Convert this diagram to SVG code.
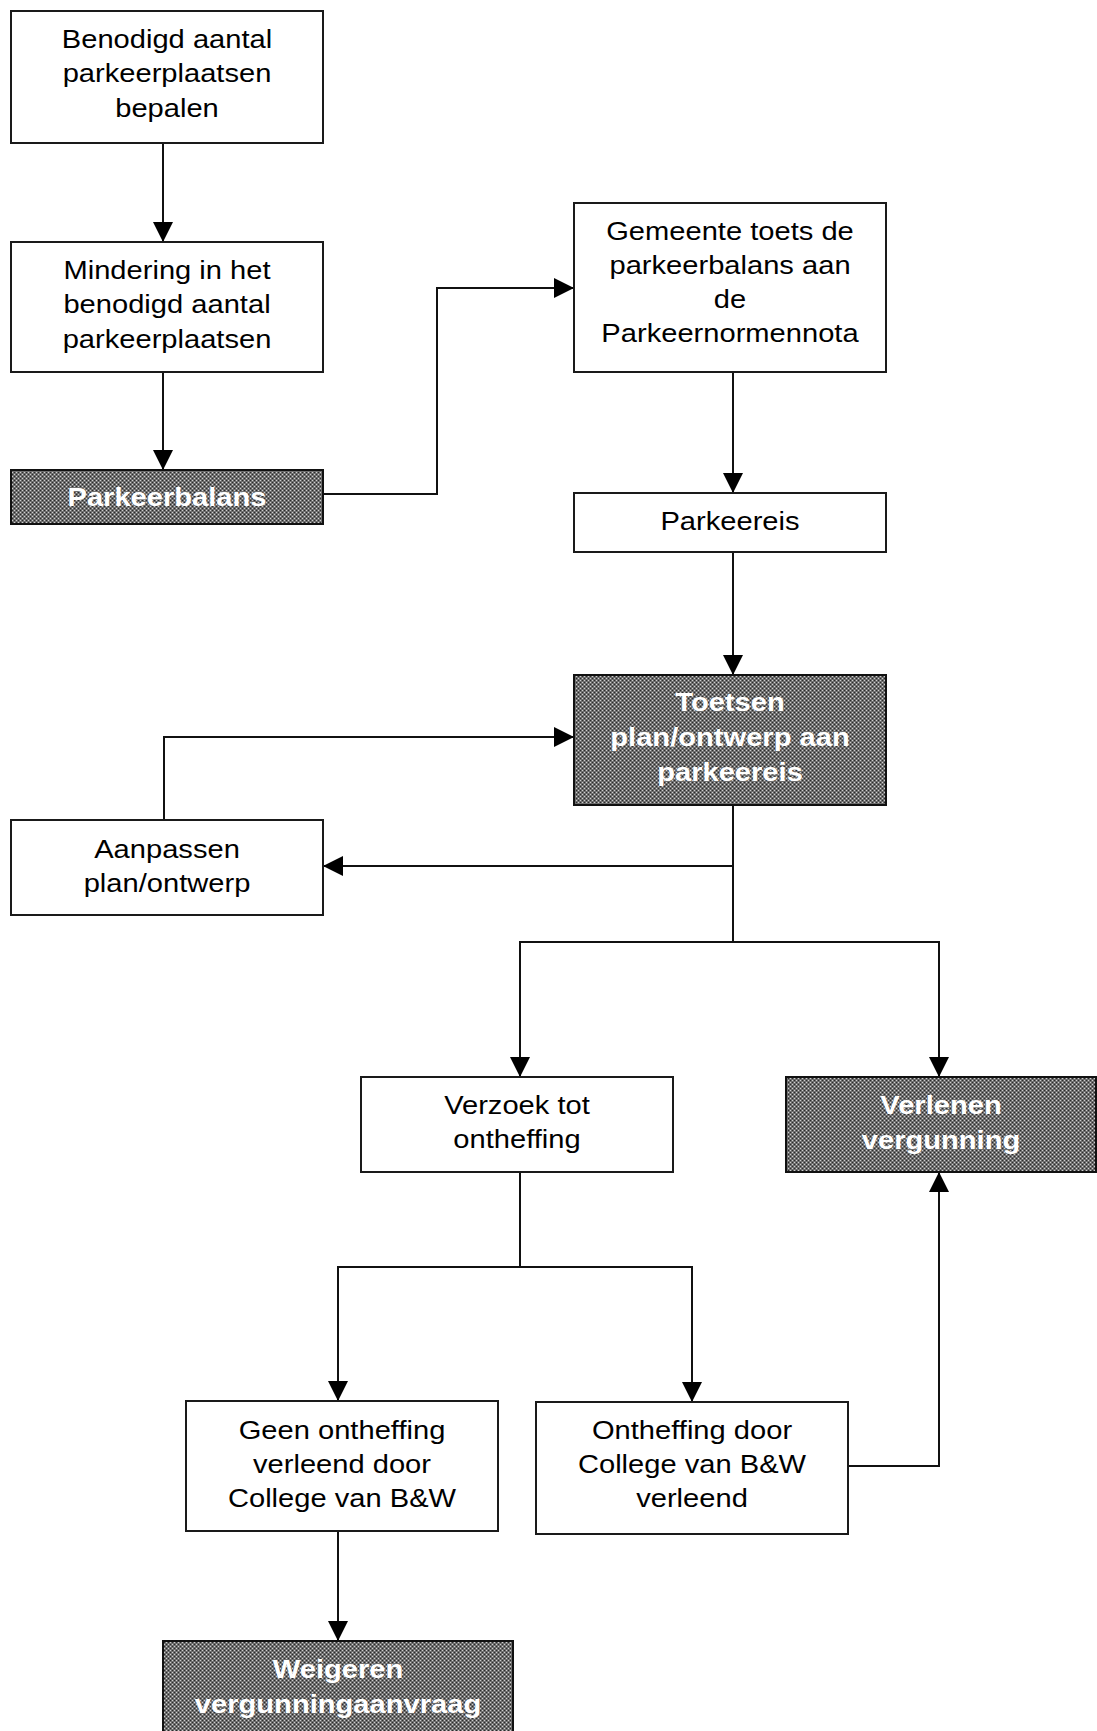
<svg xmlns="http://www.w3.org/2000/svg" width="1097" height="1731" viewBox="0 0 1097 1731">
<style>
.box{fill:#fff;stroke:#1a1a1a;stroke-width:2}
.dark{fill:url(#hatch);stroke:#111;stroke-width:2}
.t{font-family:"Liberation Sans",Arial,sans-serif;font-size:26px;text-anchor:middle;fill:#000}
.tb{font-family:"Liberation Sans",Arial,sans-serif;font-size:26px;font-weight:bold;text-anchor:middle;fill:#fff}
.c{fill:none;stroke:#111;stroke-width:2}
.a{marker-end:url(#arr)}
</style>
<defs>
<pattern id="hatch" patternUnits="userSpaceOnUse" width="4" height="4">
<rect width="4" height="4" fill="#6e6e6e"/>
<rect x="0" y="0" width="1" height="1" fill="#cfcfcf"/>
<rect x="2" y="2" width="1" height="1" fill="#cfcfcf"/>
<rect x="2" y="0" width="1" height="1" fill="#2a2a2a"/>
<rect x="0" y="2" width="1" height="1" fill="#2a2a2a"/>
</pattern>
<marker id="arr" markerUnits="userSpaceOnUse" markerWidth="20" markerHeight="20" viewBox="0 0 20 20" refX="20" refY="10" orient="auto">
<path d="M0,0 L20,10 L0,20 z" fill="#000"/>
</marker>
</defs>
<g id="connectors">
<path class="c a" d="M163,143 V242"/>
<path class="c a" d="M163,372 V470"/>
<path class="c a" d="M323,494 H437 V288 H574"/>
<path class="c a" d="M733,372 V493"/>
<path class="c a" d="M733,552 V675"/>
<path class="c a" d="M164,820 V737 H574"/>
<path class="c a" d="M733,866 H323"/>
<path class="c a" d="M733,805 V942 H520 V1077"/>
<path class="c a" d="M733,942 H939 V1077"/>
<path class="c a" d="M520,1172 V1267 H338 V1401"/>
<path class="c a" d="M520,1267 H692 V1402"/>
<path class="c a" d="M849,1466 H939 V1172"/>
<path class="c a" d="M338,1531 V1641"/>
</g>
<g id="n1">
<rect class="box" x="11" y="11" width="312" height="132"/>
<g transform="translate(167,0) scale(1.12,1)">
<text class="t" x="0" y="48">Benodigd aantal</text>
<text class="t" x="0" y="82.5">parkeerplaatsen</text>
<text class="t" x="0" y="117">bepalen</text>
</g>
</g>
<g id="n2">
<rect class="box" x="11" y="242" width="312" height="130"/>
<g transform="translate(167,0) scale(1.12,1)">
<text class="t" x="0" y="279">Mindering in het</text>
<text class="t" x="0" y="313.5">benodigd aantal</text>
<text class="t" x="0" y="348">parkeerplaatsen</text>
</g>
</g>
<g id="n3">
<rect class="dark" x="11" y="470" width="312" height="54"/>
<g transform="translate(167,0) scale(1.12,1)">
<text class="tb" x="0" y="506">Parkeerbalans</text>
</g>
</g>
<g id="n4">
<rect class="box" x="574" y="203" width="312" height="169"/>
<g transform="translate(730,0) scale(1.12,1)">
<text class="t" x="0" y="240">Gemeente toets de</text>
<text class="t" x="0" y="274">parkeerbalans aan</text>
<text class="t" x="0" y="308">de</text>
<text class="t" x="0" y="342">Parkeernormennota</text>
</g>
</g>
<g id="n5">
<rect class="box" x="574" y="493" width="312" height="59"/>
<g transform="translate(730,0) scale(1.12,1)">
<text class="t" x="0" y="530">Parkeereis</text>
</g>
</g>
<g id="n6">
<rect class="dark" x="574" y="675" width="312" height="130"/>
<g transform="translate(730,0) scale(1.12,1)">
<text class="tb" x="0" y="711">Toetsen</text>
<text class="tb" x="0" y="746">plan/ontwerp aan</text>
<text class="tb" x="0" y="781">parkeereis</text>
</g>
</g>
<g id="n7">
<rect class="box" x="11" y="820" width="312" height="95"/>
<g transform="translate(167,0) scale(1.12,1)">
<text class="t" x="0" y="858">Aanpassen</text>
<text class="t" x="0" y="892">plan/ontwerp</text>
</g>
</g>
<g id="n8">
<rect class="box" x="361" y="1077" width="312" height="95"/>
<g transform="translate(517,0) scale(1.12,1)">
<text class="t" x="0" y="1114">Verzoek tot</text>
<text class="t" x="0" y="1148">ontheffing</text>
</g>
</g>
<g id="n9">
<rect class="dark" x="786" y="1077" width="310" height="95"/>
<g transform="translate(941,0) scale(1.12,1)">
<text class="tb" x="0" y="1114">Verlenen</text>
<text class="tb" x="0" y="1149">vergunning</text>
</g>
</g>
<g id="n10">
<rect class="box" x="186" y="1401" width="312" height="130"/>
<g transform="translate(342,0) scale(1.12,1)">
<text class="t" x="0" y="1439">Geen ontheffing</text>
<text class="t" x="0" y="1473">verleend door</text>
<text class="t" x="0" y="1507">College van B&amp;W</text>
</g>
</g>
<g id="n11">
<rect class="box" x="536" y="1402" width="312" height="132"/>
<g transform="translate(692,0) scale(1.12,1)">
<text class="t" x="0" y="1439">Ontheffing door</text>
<text class="t" x="0" y="1473">College van B&amp;W</text>
<text class="t" x="0" y="1507">verleend</text>
</g>
</g>
<g id="n12">
<rect class="dark" x="163" y="1641" width="350" height="92"/>
<g transform="translate(338,0) scale(1.12,1)">
<text class="tb" x="0" y="1678">Weigeren</text>
<text class="tb" x="0" y="1713">vergunningaanvraag</text>
</g>
</g>
</svg>
